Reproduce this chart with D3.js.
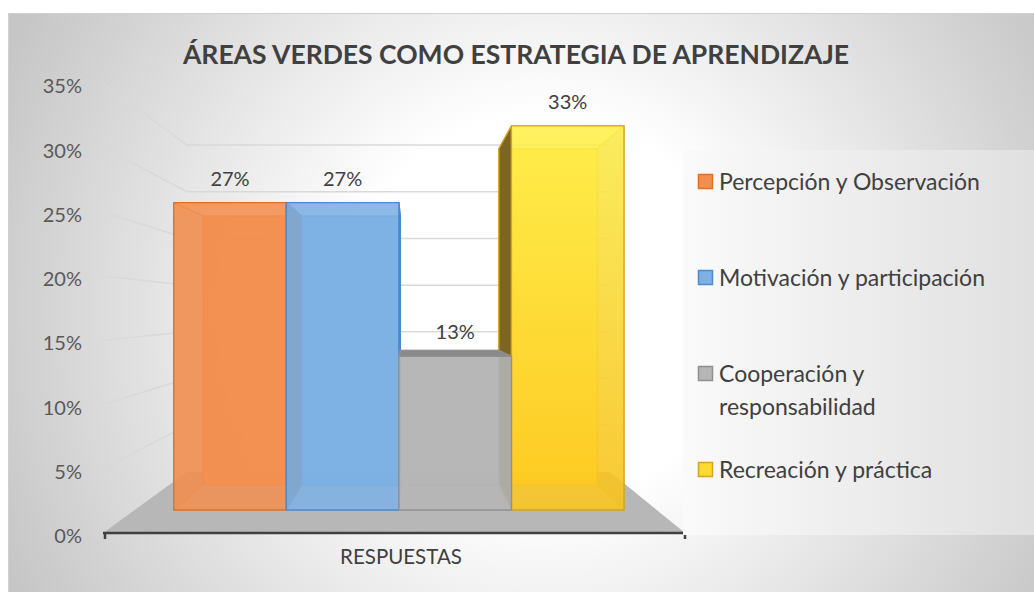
<!DOCTYPE html>
<html>
<head>
<meta charset="utf-8">
<script src="https://d3js.org/d3.v7.min.js"></script>
<style>
body { margin: 0; background: #fff; }
svg text { font-family: Lato, "Noto Sans", sans-serif; }
</style>
</head>
<body>
<svg width="1034" height="592"></svg>
<script>
// chart data
var series = ["Percepción y Observación", "Motivación y participación", "Cooperación y responsabilidad", "Recreación y práctica"];
var values = [26.67, 26.67, 13.33, 33.33];
var valueLabels = ["27%", "27%", "13%", "33%"];
var legendLines = [["Percepción y Observación"], ["Motivación y participación"], ["Cooperación y", "responsabilidad"], ["Recreación y práctica"]];
var yTicks = [0, 5, 10, 15, 20, 25, 30, 35];
var category = "RESPUESTAS";
var title = "ÁREAS VERDES COMO ESTRATEGIA DE APRENDIZAJE";

var colors = [
  {front: "#F28F50", side: "#B8622A", edge: "#E2701C"},
  {front: "#7DB1E4", side: "#4E82B8", edge: "#4A8BCB"},
  {front: "#B6B6B6", side: "#8A8A8A", edge: "#909090"},
  {front: "#FFDA2E", side: "#7D6524", edge: "#D4A41A"}
];

var svg = d3.select("svg");
var defs = svg.append("defs");

var bg = defs.append("radialGradient").attr("id", "bg")
    .attr("gradientUnits", "userSpaceOnUse")
    .attr("cx", 540).attr("cy", 310).attr("r", 590);
bg.append("stop").attr("offset", "0").attr("stop-color", "#ffffff");
bg.append("stop").attr("offset", "0.33").attr("stop-color", "#ffffff");
bg.append("stop").attr("offset", "1").attr("stop-color", "#c6c6c6");

var lg = defs.append("linearGradient").attr("id", "legbg");
lg.append("stop").attr("offset", "0").attr("stop-color", "#fafafa");
lg.append("stop").attr("offset", "1").attr("stop-color", "#e0e0e0");

var yg = defs.append("linearGradient").attr("id", "yellow").attr("x1", 0).attr("y1", 0).attr("x2", 0).attr("y2", 1);
yg.append("stop").attr("offset", "0").attr("stop-color", "#FFF04C");
yg.append("stop").attr("offset", "1").attr("stop-color", "#FDC51C");

svg.append("rect")
    .attr("x", 8.5).attr("y", 13.5).attr("width", 1040).attr("height", 600)
    .attr("fill", "url(#bg)").attr("stroke", "#d0d0d0");

// 3d projection
var vp = {x: 410.6, y: 309.5};
var sFront = 1, sBarF = 0.897, sBarB = 0.785, sBack = 0.727;

var x = d3.scaleBand().domain(series).range([103, 685])
    .paddingOuter(0.3187).paddingInner(0).align(0.544);
var y = d3.scaleLinear().domain([0, 35]).range([533, 83.25]);

function P(px, v, s) {
  return [vp.x + s * (px - vp.x), vp.y + s * (y(v) - vp.y)];
}

var x0 = x.range()[0], x1 = x.range()[1];

// floor
svg.append("path")
    .attr("d", d3.line()([P(x0, 0, sFront), P(x1, 0, sFront), P(x1, 0, sBack), P(x0, 0, sBack)]) + "Z")
    .attr("fill", "#b7b7b7");

// walls grid
var grid = svg.append("g").attr("stroke", "#d9d9d9").attr("stroke-width", 1.5).attr("fill", "none");
yTicks.filter(function(d) { return d > 0; }).forEach(function(t) {
  grid.append("path").attr("d", d3.line()([P(x0, t, sFront), P(x0, t, sBack), P(x1, t, sBack)]));
});

// bars, far ones first
var bw = x.bandwidth();
var order = d3.range(series.length).sort(function(a, b) {
  var da = Math.abs(x(series[a]) + bw / 2 - vp.x), db = Math.abs(x(series[b]) + bw / 2 - vp.x);
  return db - da;
});

order.forEach(function(i) {
  var X0 = x(series[i]), X1 = X0 + bw, v = values[i], c = colors[i];
  var f00 = P(X0, 0, sBarF), f10 = P(X1, 0, sBarF), f11 = P(X1, v, sBarF), f01 = P(X0, v, sBarF);
  var b00 = P(X0, 0, sBarB), b10 = P(X1, 0, sBarB), b11 = P(X1, v, sBarB), b01 = P(X0, v, sBarB);
  var g = svg.append("g").attr("stroke", c.edge).attr("stroke-width", 1.3).attr("stroke-linejoin", "round");
  function face(pts, fill, op, sop) {
    g.append("path").attr("d", d3.line()(pts) + "Z")
      .attr("fill", fill).attr("fill-opacity", op).attr("stroke-opacity", sop);
  }
  var leftVis = f00[0] > b00[0], rightVis = f10[0] < b10[0], topVis = f01[1] > b01[1];
  face([b00, b10, b11, b01], c.front, 0.9, 0.5);
  if (!leftVis) face([b00, f00, f01, b01], c.side, 0.25, 0.5);
  if (!rightVis) face([f10, b10, b11, f11], c.side, 0.25, 0.5);
  if (!topVis) face([f01, f11, b11, b01], c.front, 0.2, 0.5);
  if (leftVis) face([b00, f00, f01, b01], c.side, 1, 1);
  if (rightVis) face([f10, b10, b11, f11], c.side, 1, 1);
  if (topVis) face([f01, f11, b11, b01], c.side, 1, 1);
  face([f00, f10, f11, f01], i === 3 ? "url(#yellow)" : c.front, 0.86, 1);
});

// data labels
series.forEach(function(s, i) {
  var p = P(x(s) + bw / 2, values[i], sBarF);
  svg.append("text").attr("x", p[0]).attr("y", p[1] - 24).attr("dy", "0.35em")
    .attr("text-anchor", "middle").attr("font-size", 20).attr("fill", "#404040")
    .text(valueLabels[i]);
});

// axis
svg.append("line")
    .attr("x1", x0).attr("x2", x1).attr("y1", y(0)).attr("y2", y(0))
    .attr("stroke", "#404040").attr("stroke-width", 2.5);
[x0 + 2, x1].forEach(function(tx) {
  svg.append("line").attr("x1", tx).attr("x2", tx).attr("y1", y(0)).attr("y2", y(0) + 6)
    .attr("stroke", "#404040").attr("stroke-width", 2.5);
});

yTicks.forEach(function(t) {
  svg.append("text").attr("x", 82).attr("y", y(t) + 3).attr("dy", "0.35em")
    .attr("text-anchor", "end").attr("font-size", 20).attr("fill", "#595959")
    .text(t + "%");
});

svg.append("text").attr("x", 401).attr("y", 557).attr("dy", "0.35em")
    .attr("text-anchor", "middle").attr("font-size", 20.5).attr("fill", "#404040")
    .text(category);

svg.append("text").attr("x", 516).attr("y", 55).attr("dy", "0.35em")
    .attr("text-anchor", "middle").attr("font-size", 26.5).attr("font-weight", "bold")
    .attr("fill", "#404040").text(title);

// legend
svg.append("rect").attr("x", 683).attr("y", 150).attr("width", 351).attr("height", 385)
    .attr("fill", "url(#legbg)");
var leg = svg.append("g");
legendLines.forEach(function(lines, i) {
  var ly = 182 + i * 96;
  leg.append("rect").attr("x", 698.5).attr("y", ly - 7.5).attr("width", 14).attr("height", 14)
    .attr("fill", colors[i].front).attr("stroke", colors[i].edge).attr("stroke-width", 1.5);
  lines.forEach(function(t, j) {
    leg.append("text").attr("x", 719).attr("y", ly + j * 33).attr("dy", "0.35em")
      .attr("font-size", 23).attr("fill", "#404040").text(t);
  });
});
</script>
</body>
</html>
